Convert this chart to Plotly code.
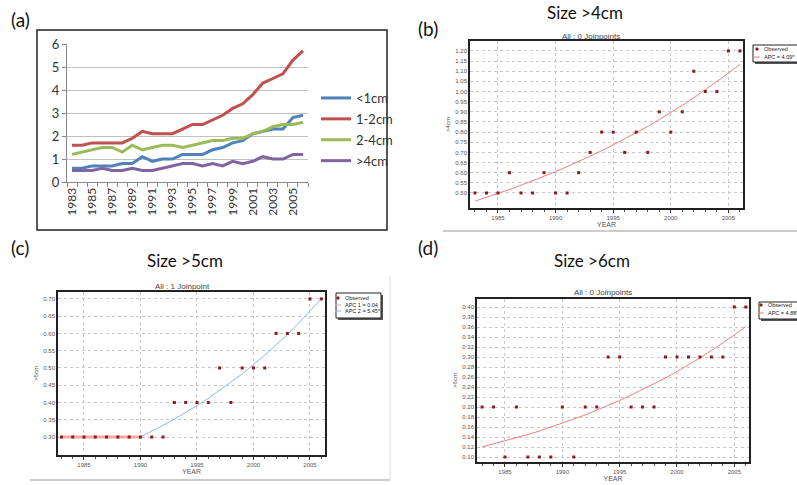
import plotly.graph_objects as go

W, H = 797, 485
def X(p): return p / W
def Y(p): return 1 - p / H

years = list(range(1983, 2007))

# Panel (a): incidence by size
a_lt1 = [0.6,0.6,0.7,0.7,0.7,0.8,0.8,1.1,0.9,1.0,1.0,1.2,1.2,1.2,1.4,1.5,1.7,1.8,2.1,2.2,2.3,2.3,2.8,2.9]
a_1_2 = [1.6,1.6,1.7,1.7,1.7,1.7,1.9,2.2,2.1,2.1,2.1,2.3,2.5,2.5,2.7,2.9,3.2,3.4,3.8,4.3,4.5,4.7,5.3,5.7]
a_2_4 = [1.2,1.3,1.4,1.5,1.5,1.3,1.6,1.4,1.5,1.6,1.6,1.5,1.6,1.7,1.8,1.8,1.9,1.9,2.1,2.2,2.4,2.5,2.5,2.6]
a_gt4 = [0.5,0.5,0.5,0.6,0.5,0.5,0.6,0.5,0.5,0.6,0.7,0.8,0.8,0.7,0.8,0.7,0.9,0.8,0.9,1.1,1.0,1.0,1.2,1.2]

# Panel (b): >4cm observed and fitted
b_obs = a_gt4
b_fit = [0.460,0.478,0.498,0.517,0.538,0.560,0.582,0.605,0.630,0.655,0.681,0.708,
         0.737,0.766,0.796,0.828,0.862,0.896,0.932,0.969,1.008,1.048,1.090,1.134]

# Panel (c): >5cm observed, two segments
c_obs = [0.3,0.3,0.3,0.3,0.3,0.3,0.3,0.3,0.3,0.3,0.4,0.4,0.4,0.4,0.5,0.4,0.5,0.5,0.5,0.6,0.6,0.6,0.7,0.7]
c_years1 = list(range(1983, 1991))
c_fit1 = [0.30,0.30,0.30,0.30,0.30,0.30,0.30,0.30]
c_years2 = list(range(1990, 2007))
c_fit2 = [0.300,0.316,0.334,0.352,0.371,0.391,0.412,0.435,0.458,0.483,0.510,0.537,0.567,0.597,0.630,0.664,0.700]

# Panel (d): >6cm
d_obs = [0.2,0.2,0.1,0.2,0.1,0.1,0.1,0.2,0.1,0.2,0.2,0.3,0.3,0.2,0.2,0.2,0.3,0.3,0.3,0.3,0.3,0.3,0.4,0.4]
d_fit = [0.120,0.126,0.132,0.139,0.145,0.152,0.160,0.168,0.176,0.184,0.194,0.203,
         0.213,0.224,0.235,0.246,0.258,0.271,0.284,0.298,0.313,0.328,0.344,0.361]

CAL = "Lato, Open Sans, sans-serif"
ARI = "Liberation Sans, Arial, sans-serif"
OBS = "#8B1A1A"
FITRED = "#F07F7F"
FITBLUE = "#8AB8E6"
FITPINK = "#F4A6A6"

fig = go.Figure()

# ---- panel a
for name, vals, col in [("&lt;1cm", a_lt1, "#4F81BD"), ("1-2cm", a_1_2, "#C0504D"),
                        ("2-4cm", a_2_4, "#9BBB59"), ("&gt;4cm", a_gt4, "#8064A2")]:
    fig.add_trace(go.Scatter(x=years, y=vals, mode="lines", name=name,
                             line=dict(color=col, width=3), xaxis="x", yaxis="y",
                             legendgroup=name))

# ---- panel b
fig.add_trace(go.Scatter(x=years, y=b_fit, mode="lines", name="APC = 4.09*",
                         line=dict(color=FITRED, width=1), xaxis="x2", yaxis="y2", showlegend=False))
fig.add_trace(go.Scatter(x=years, y=b_obs, mode="markers", name="Observed",
                         marker=dict(symbol="square", size=3, color=OBS),
                         xaxis="x2", yaxis="y2", showlegend=False))

# ---- panel c
fig.add_trace(go.Scatter(x=c_years1, y=c_fit1, mode="lines", name="APC 1 = 0.04",
                         line=dict(color=FITPINK, width=3), xaxis="x3", yaxis="y3", showlegend=False))
fig.add_trace(go.Scatter(x=c_years2, y=c_fit2, mode="lines", name="APC 2 = 5.45*",
                         line=dict(color=FITBLUE, width=1), xaxis="x3", yaxis="y3", showlegend=False))
fig.add_trace(go.Scatter(x=years, y=c_obs, mode="markers", name="Observed",
                         marker=dict(symbol="square", size=3, color=OBS),
                         xaxis="x3", yaxis="y3", showlegend=False))

# ---- panel d
fig.add_trace(go.Scatter(x=years, y=d_fit, mode="lines", name="APC = 4.88*",
                         line=dict(color=FITRED, width=1), xaxis="x4", yaxis="y4", showlegend=False))
fig.add_trace(go.Scatter(x=years, y=d_obs, mode="markers", name="Observed",
                         marker=dict(symbol="square", size=3, color=OBS),
                         xaxis="x4", yaxis="y4", showlegend=False))

def jp_x(dom, rng, anchor):
    return dict(domain=dom, range=rng, tickvals=[1985,1990,1995,2000,2005], anchor=anchor,
                ticks="outside", ticklen=3, tickcolor="#333", automargin=False,
                minor=dict(dtick=1, tick0=1983, ticks="outside", ticklen=2, tickcolor="#555", showgrid=False),
                showgrid=True, gridcolor="#C8C8C8", griddash="dot", gridwidth=1,
                showline=True, linecolor="#222", linewidth=1.5, mirror=True,
                tickfont=dict(size=6, color="#555", family=ARI),
                title=dict(text="YEAR", font=dict(size=7, color="#555", family=ARI), standoff=2),
                zeroline=False)

def jp_y(dom, rng, vals, anchor, title):
    return dict(domain=dom, range=rng, tickvals=vals, ticktext=["%.2f" % v for v in vals],
                ticks="", showgrid=True, gridcolor="#C8C8C8", griddash="dot", gridwidth=1,
                showline=True, linecolor="#222", linewidth=1.5, mirror=True, automargin=False,
                tickfont=dict(size=6, color="#555", family=ARI), anchor=anchor,
                title=dict(text=title, font=dict(size=6, color="#555", family=ARI), standoff=4),
                zeroline=False)

b_ticks = [round(0.50 + 0.05 * i, 2) for i in range(15)]
c_ticks = [round(0.30 + 0.05 * i, 2) for i in range(9)]
d_ticks = [round(0.10 + 0.02 * i, 2) for i in range(16)]

fig.update_layout(
    width=W, height=H, margin=dict(l=0, r=0, t=0, b=0, autoexpand=False),
    paper_bgcolor="white", plot_bgcolor="white", showlegend=True,
    xaxis=dict(domain=[X(67), X(308)], range=[1982.5, 2006.5], tickvals=years[::2],
               tickangle=-90, ticks="", showgrid=False, automargin=False,
               minor=dict(dtick=1, tick0=1982.5, ticks="outside", ticklen=4, tickcolor="#888"),
               showline=True, linecolor="#888", linewidth=1, zeroline=False,
               tickfont=dict(size=12, color="#333", family=CAL), anchor="y"),
    yaxis=dict(domain=[Y(182), Y(44)], range=[0, 6], dtick=1, showgrid=True, automargin=False,
               gridcolor="#BFBFBF", gridwidth=1, showline=True, linecolor="#888",
               ticks="outside", ticklen=4, tickcolor="#888", zeroline=False,
               tickfont=dict(size=13, color="#333", family=CAL), anchor="x"),
    xaxis2=jp_x([X(470), X(743)], [1982.57, 2006.27], "y2"),
    yaxis2=jp_y([Y(208), Y(41)], [0.426, 1.249], b_ticks, "x2", "&gt;4cm"),
    xaxis3=jp_x([X(58), X(325)], [1982.7, 2006.33], "y3"),
    yaxis3=jp_y([Y(455), Y(292)], [0.248, 0.72], c_ticks, "x3", "&gt;5cm"),
    xaxis4=jp_x([X(477), X(749)], [1982.56, 2006.28], "y4"),
    yaxis4=jp_y([Y(462), Y(299)], [0.09, 0.416], d_ticks, "x4", "&gt;6cm"),
    legend=dict(x=X(316), y=Y(83), xanchor="left", yanchor="top",
                font=dict(size=13, color="#333", family=CAL), bgcolor="rgba(0,0,0,0)",
                tracegroupgap=1, itemwidth=30),
)

ann = [
    ("(a)", 20, 20, 19, CAL, "#111"),
    ("(b)", 428, 28, 19, CAL, "#111"),
    ("(c)", 20, 248, 19, CAL, "#111"),
    ("(d)", 428, 248, 19, CAL, "#111"),
    ("Size &gt;4cm", 585, 12, 17, CAL, "#111"),
    ("Size &gt;5cm", 185, 260, 17, CAL, "#111"),
    ("Size &gt;6cm", 592, 260, 17, CAL, "#111"),
    ("All : 0 Joinpoints", 591, 37, 8, ARI, "#444"),
    ("All : 1 Joinpoint", 182, 286, 8, ARI, "#444"),
    ("All : 0 Joinpoints", 603, 292, 8, ARI, "#444"),
]
for t, x, y, s, fam, col in ann:
    fig.add_annotation(text=t, x=X(x), y=Y(y), xref="paper", yref="paper",
                       showarrow=False, xanchor="center", yanchor="middle",
                       font=dict(size=s, family=fam, color=col))

def rect(x0, y0, x1, y1, line, fill, width=1):
    fig.add_shape(type="rect", xref="paper", yref="paper", x0=X(x0), x1=X(x1), y0=Y(y1), y1=Y(y0),
                  line=dict(color=line, width=width), fillcolor=fill)

def hline(x0, x1, y, color, width, dash="solid"):
    fig.add_shape(type="line", xref="paper", yref="paper", x0=X(x0), x1=X(x1), y0=Y(y), y1=Y(y),
                  line=dict(color=color, width=width, dash=dash))

def jp_legend(x0, y0, x1, y1, entries, tx):
    # shadow, then box
    rect(x0 + 2, y0 + 2, x1 + 2, y1 + 2, "rgba(0,0,0,0)", "#555")
    rect(x0, y0, x1, y1, "#222", "white")
    for kind, label, yy, col in entries:
        if kind == "marker":
            rect(tx - 6, yy - 1, tx - 4, yy + 1, OBS, OBS)
        else:
            hline(tx - 8, tx - 2, yy, col, 1)
        fig.add_annotation(text=label, x=X(tx), y=Y(yy), xref="paper", yref="paper",
                           showarrow=False, xanchor="left", yanchor="middle",
                           font=dict(size=5.5, family=ARI, color="#222"))

jp_legend(753, 45, 810, 62, [("marker", "Observed", 49, OBS), ("line", "APC = 4.09*", 57, FITRED)], 762)
jp_legend(336, 293, 381, 318, [("marker", "Observed", 298, OBS), ("line", "APC 1 = 0.04", 305, FITPINK),
                               ("line", "APC 2 = 5.45*", 311, FITBLUE)], 343)
jp_legend(759, 302, 810, 319, [("marker", "Observed", 305, OBS), ("line", "APC = 4.88*", 313, FITRED)], 766)

# frames / separators
rect(37, 30, 387, 230, "#222", "rgba(0,0,0,0)", 1.5)
hline(443, 797, 231, "#BBBBBB", 1.5)
hline(30, 390, 480, "#CCCCCC", 2)
fig.add_shape(type="line", xref="paper", yref="paper", x0=X(390), x1=X(390), y0=Y(480), y1=Y(276),
              line=dict(color="#DDDDDD", width=1))

fig.write_html("out.html")
